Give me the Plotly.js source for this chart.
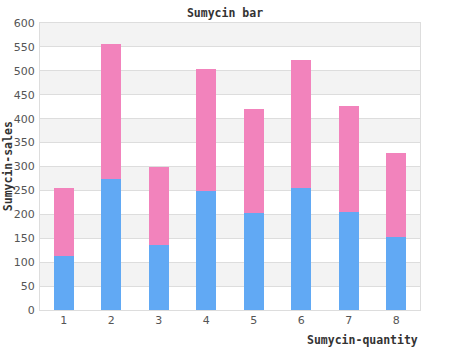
<!DOCTYPE html>
<html>
<head>
<meta charset="utf-8">
<script src="https://cdn.plot.ly/plotly-3.0.1.min.js"></script>
<style>html,body{margin:0;padding:0;background:#fff;}#chart{width:450px;height:350px;}</style>
</head>
<body>
<div id="chart"></div>
<script>
var categories = [1, 2, 3, 4, 5, 6, 7, 8];
var blueValues = [113, 274, 136, 248, 203, 256, 205, 153];
var pinkValues = [142, 283, 163, 256, 218, 267, 222, 176];
var yTicks = [0, 50, 100, 150, 200, 250, 300, 350, 400, 450, 500, 550, 600];

var shapes = [];
for (var i = 1; i < yTicks.length; i += 2) {
  shapes.push({type: 'rect', xref: 'paper', yref: 'y', x0: 0, x1: 1,
    y0: yTicks[i], y1: yTicks[i + 1], fillcolor: '#f3f3f3', line: {width: 0}, layer: 'below'});
}

var mono = 'DejaVu Sans Mono, monospace';
var data = [
  {type: 'bar', x: categories, y: blueValues, marker: {color: '#61a9f4'}, hoverinfo: 'none'},
  {type: 'bar', x: categories, y: pinkValues, marker: {color: '#f283bc'}, hoverinfo: 'none'}
];
var layout = {
  width: 450, height: 350,
  margin: {l: 40, r: 30, t: 23, b: 40},
  barmode: 'stack', bargap: 0.58, showlegend: false,
  paper_bgcolor: '#fff', plot_bgcolor: '#fff',
  title: {text: '<b>Sumycin bar</b>', font: {family: mono, size: 11.5, color: '#333'}, x: 0.5, xanchor: 'center', y: 0.963, yanchor: 'middle'},
  xaxis: {range: [0.5, 8.5], tickvals: categories, showgrid: false, zeroline: false,
    showline: true, linecolor: '#dddddd', linewidth: 1, mirror: true, ticks: '',
    tickfont: {family: 'DejaVu Sans, sans-serif', size: 11, color: '#555'}},
  yaxis: {range: [0, 600], tickvals: yTicks, showgrid: true, gridcolor: '#dddddd', gridwidth: 1,
    zeroline: false, showline: true, linecolor: '#dddddd', linewidth: 1, mirror: true, ticks: '',
    ticklabelstandoff: 2,
    tickfont: {family: 'DejaVu Sans, sans-serif', size: 11, color: '#555'}},
  shapes: shapes,
  annotations: [
    {text: '<b>Sumycin-sales</b>', xref: 'paper', yref: 'paper', x: -0.085, y: 0.5, xanchor: 'center', yanchor: 'middle',
      textangle: -90, showarrow: false, font: {family: mono, size: 11.5, color: '#333'}},
    {text: '<b>Sumycin-quantity</b>', xref: 'paper', yref: 'paper', x: 1, y: -0.105, xanchor: 'right', yanchor: 'middle',
      showarrow: false, font: {family: mono, size: 11.5, color: '#333'}}
  ]
};
Plotly.newPlot('chart', data, layout, {displayModeBar: false, staticPlot: true});
</script>
</body>
</html>
